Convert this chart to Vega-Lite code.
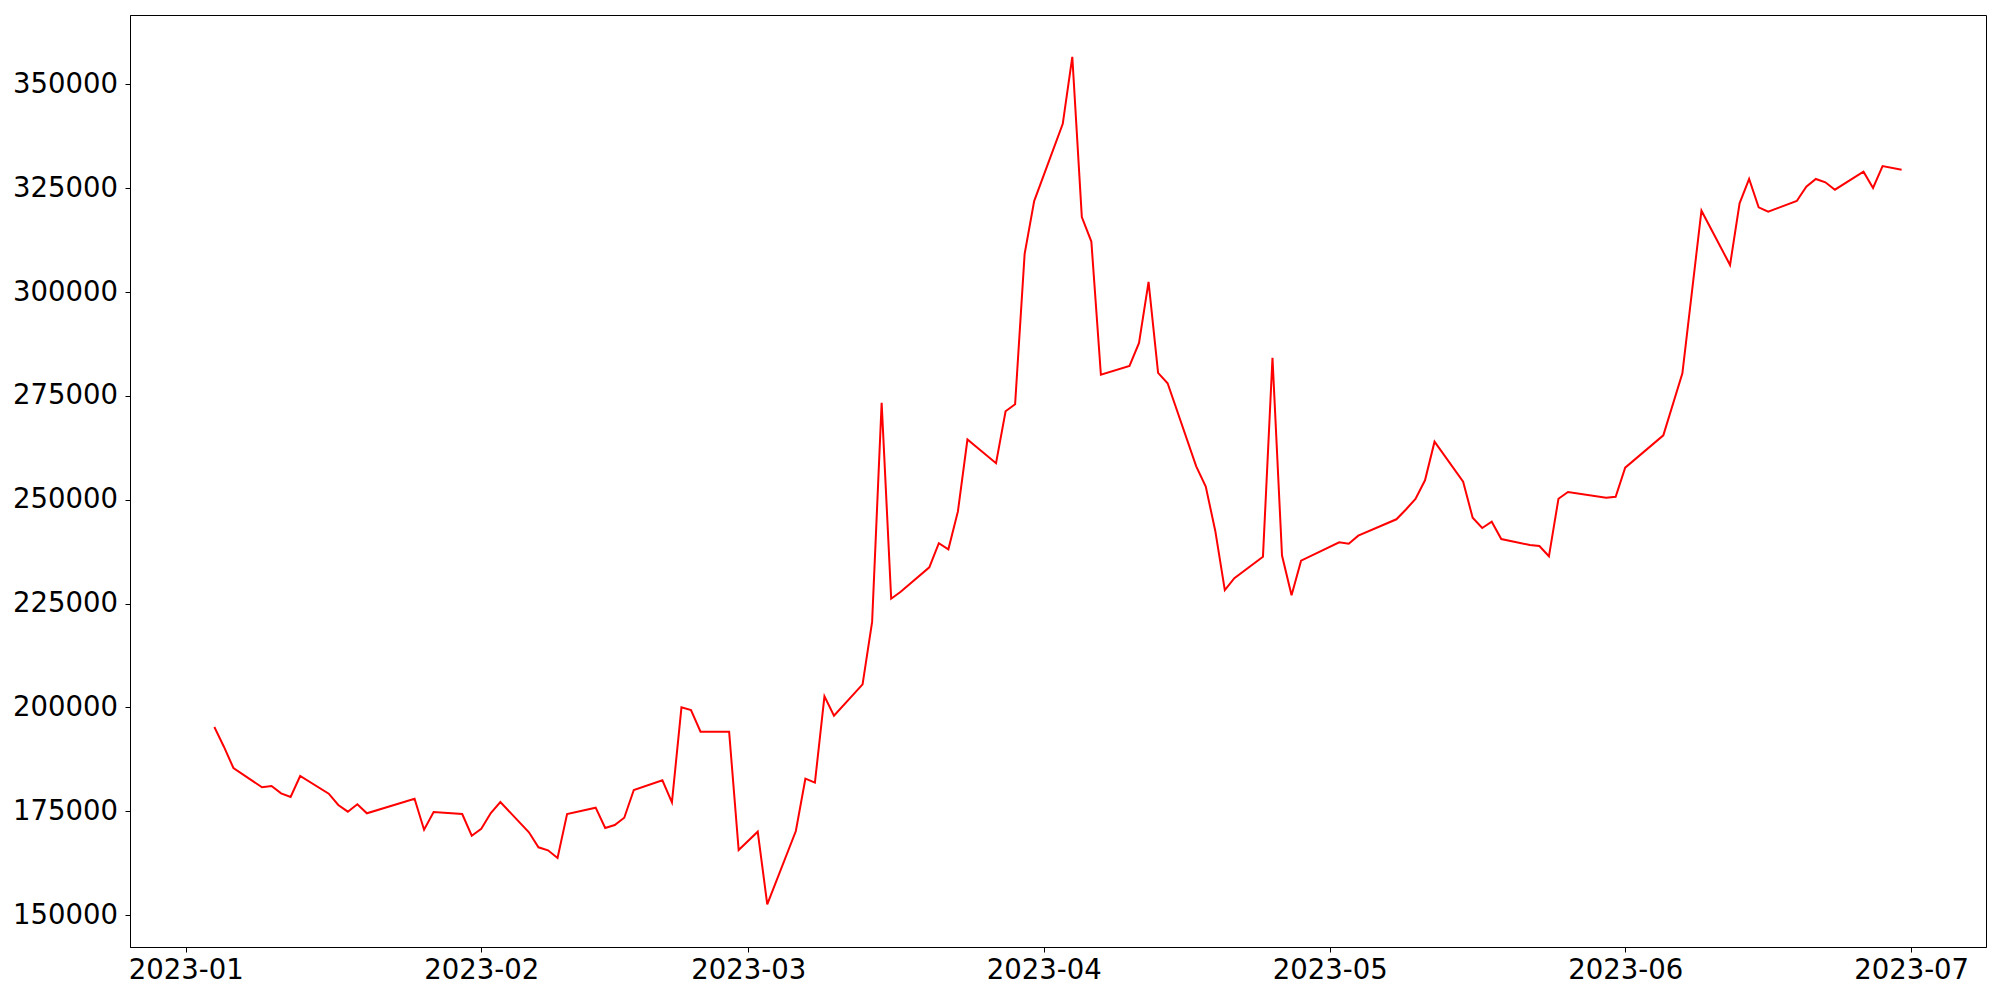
{
  "$schema": "https://vega.github.io/schema/vega-lite/v6.json",
  "autosize": {"type": "none"},
  "padding": {"left": 130, "top": 15, "right": 14, "bottom": 53},
  "width": 1856,
  "height": 932,
  "background": "white",
  "config": {
    "view": {"stroke": "black", "strokeWidth": 1},
    "axis": {
      "grid": false,
      "domainColor": "black",
      "domainWidth": 1,
      "tickColor": "black",
      "tickWidth": 1,
      "tickSize": 5,
      "labelFont": "DejaVu Sans",
      "labelFontSize": 27.5,
      "labelColor": "black",
      "title": null
    }
  },
  "data": {
    "values": [
      {"date": "2023-01-04", "value": 195300},
      {"date": "2023-01-05", "value": 190560},
      {"date": "2023-01-06", "value": 185430},
      {"date": "2023-01-09", "value": 180790},
      {"date": "2023-01-10", "value": 181100},
      {"date": "2023-01-11", "value": 179340},
      {"date": "2023-01-12", "value": 178450},
      {"date": "2023-01-13", "value": 183510},
      {"date": "2023-01-16", "value": 179250},
      {"date": "2023-01-17", "value": 176530},
      {"date": "2023-01-18", "value": 174920},
      {"date": "2023-01-19", "value": 176700},
      {"date": "2023-01-20", "value": 174530},
      {"date": "2023-01-25", "value": 178040},
      {"date": "2023-01-26", "value": 170580},
      {"date": "2023-01-27", "value": 174840},
      {"date": "2023-01-30", "value": 174360},
      {"date": "2023-01-31", "value": 169140},
      {"date": "2023-02-01", "value": 170820},
      {"date": "2023-02-02", "value": 174600},
      {"date": "2023-02-03", "value": 177250},
      {"date": "2023-02-06", "value": 169960},
      {"date": "2023-02-07", "value": 166350},
      {"date": "2023-02-08", "value": 165620},
      {"date": "2023-02-09", "value": 163770},
      {"date": "2023-02-10", "value": 174360},
      {"date": "2023-02-13", "value": 175880},
      {"date": "2023-02-14", "value": 170990},
      {"date": "2023-02-15", "value": 171710},
      {"date": "2023-02-16", "value": 173470},
      {"date": "2023-02-17", "value": 180140},
      {"date": "2023-02-20", "value": 182470},
      {"date": "2023-02-21", "value": 177180},
      {"date": "2023-02-22", "value": 200040},
      {"date": "2023-02-23", "value": 199390},
      {"date": "2023-02-24", "value": 194170},
      {"date": "2023-02-27", "value": 194170},
      {"date": "2023-02-28", "value": 165700},
      {"date": "2023-03-02", "value": 170100},
      {"date": "2023-03-03", "value": 152630},
      {"date": "2023-03-06", "value": 170270},
      {"date": "2023-03-07", "value": 182860},
      {"date": "2023-03-08", "value": 181900},
      {"date": "2023-03-09", "value": 202690},
      {"date": "2023-03-10", "value": 198020},
      {"date": "2023-03-13", "value": 205580},
      {"date": "2023-03-14", "value": 220600},
      {"date": "2023-03-15", "value": 273340},
      {"date": "2023-03-16", "value": 226180},
      {"date": "2023-03-17", "value": 227850},
      {"date": "2023-03-20", "value": 233740},
      {"date": "2023-03-21", "value": 239540},
      {"date": "2023-03-22", "value": 238070},
      {"date": "2023-03-23", "value": 247200},
      {"date": "2023-03-24", "value": 264500},
      {"date": "2023-03-27", "value": 258800},
      {"date": "2023-03-28", "value": 271310},
      {"date": "2023-03-29", "value": 272980},
      {"date": "2023-03-30", "value": 309180},
      {"date": "2023-03-31", "value": 321890},
      {"date": "2023-04-03", "value": 340490},
      {"date": "2023-04-04", "value": 356620},
      {"date": "2023-04-05", "value": 318030},
      {"date": "2023-04-06", "value": 312140},
      {"date": "2023-04-07", "value": 280080},
      {"date": "2023-04-10", "value": 282200},
      {"date": "2023-04-11", "value": 287730},
      {"date": "2023-04-12", "value": 302460},
      {"date": "2023-04-13", "value": 280530},
      {"date": "2023-04-14", "value": 278050},
      {"date": "2023-04-17", "value": 258050},
      {"date": "2023-04-18", "value": 253170},
      {"date": "2023-04-19", "value": 242500},
      {"date": "2023-04-20", "value": 228250},
      {"date": "2023-04-21", "value": 231130},
      {"date": "2023-04-24", "value": 236300},
      {"date": "2023-04-25", "value": 284150},
      {"date": "2023-04-26", "value": 236570},
      {"date": "2023-04-27", "value": 227000},
      {"date": "2023-04-28", "value": 235330},
      {"date": "2023-05-02", "value": 239760},
      {"date": "2023-05-03", "value": 239420},
      {"date": "2023-05-04", "value": 241350},
      {"date": "2023-05-08", "value": 245300},
      {"date": "2023-05-09", "value": 247650},
      {"date": "2023-05-10", "value": 250180},
      {"date": "2023-05-11", "value": 254680},
      {"date": "2023-05-12", "value": 263970},
      {"date": "2023-05-15", "value": 254350},
      {"date": "2023-05-16", "value": 245680},
      {"date": "2023-05-17", "value": 243200},
      {"date": "2023-05-18", "value": 244720},
      {"date": "2023-05-19", "value": 240550},
      {"date": "2023-05-22", "value": 239110},
      {"date": "2023-05-23", "value": 238860},
      {"date": "2023-05-24", "value": 236390},
      {"date": "2023-05-25", "value": 250250},
      {"date": "2023-05-26", "value": 251870},
      {"date": "2023-05-30", "value": 250490},
      {"date": "2023-05-31", "value": 250730},
      {"date": "2023-06-01", "value": 257720},
      {"date": "2023-06-05", "value": 265510},
      {"date": "2023-06-07", "value": 280440},
      {"date": "2023-06-09", "value": 319580},
      {"date": "2023-06-12", "value": 306510},
      {"date": "2023-06-13", "value": 321360},
      {"date": "2023-06-14", "value": 327210},
      {"date": "2023-06-15", "value": 320390},
      {"date": "2023-06-16", "value": 319340},
      {"date": "2023-06-19", "value": 321910},
      {"date": "2023-06-20", "value": 325350},
      {"date": "2023-06-21", "value": 327210},
      {"date": "2023-06-22", "value": 326410},
      {"date": "2023-06-23", "value": 324630},
      {"date": "2023-06-26", "value": 328960},
      {"date": "2023-06-27", "value": 325040},
      {"date": "2023-06-28", "value": 330330},
      {"date": "2023-06-30", "value": 329440}
    ]
  },
  "mark": {"type": "line", "color": "#ff0000", "strokeWidth": 2, "clip": true},
  "encoding": {
    "x": {
      "field": "date",
      "type": "temporal",
      "scale": {
        "type": "utc",
        "domain": [
          {"year": 2022, "month": 12, "date": 26, "hours": 3, "minutes": 36, "utc": true},
          {"year": 2023, "month": 7, "date": 8, "hours": 20, "minutes": 24, "utc": true}
        ]
      },
      "axis": {
        "values": [
          {"year": 2023, "month": 1, "date": 1, "utc": true},
          {"year": 2023, "month": 2, "date": 1, "utc": true},
          {"year": 2023, "month": 3, "date": 1, "utc": true},
          {"year": 2023, "month": 4, "date": 1, "utc": true},
          {"year": 2023, "month": 5, "date": 1, "utc": true},
          {"year": 2023, "month": 6, "date": 1, "utc": true},
          {"year": 2023, "month": 7, "date": 1, "utc": true}
        ],
        "labelExpr": "utcFormat(datum.value, '%Y-%m')",
        "labelPadding": 4,
        "labelFlush": false,
        "labelOverlap": false
      }
    },
    "y": {
      "field": "value",
      "type": "quantitative",
      "scale": {"domain": [142350, 366680], "nice": false, "zero": false},
      "axis": {
        "values": [150000, 175000, 200000, 225000, 250000, 275000, 300000, 325000, 350000],
        "format": "d",
        "labelPadding": 7.5,
        "labelOverlap": false
      }
    }
  }
}
